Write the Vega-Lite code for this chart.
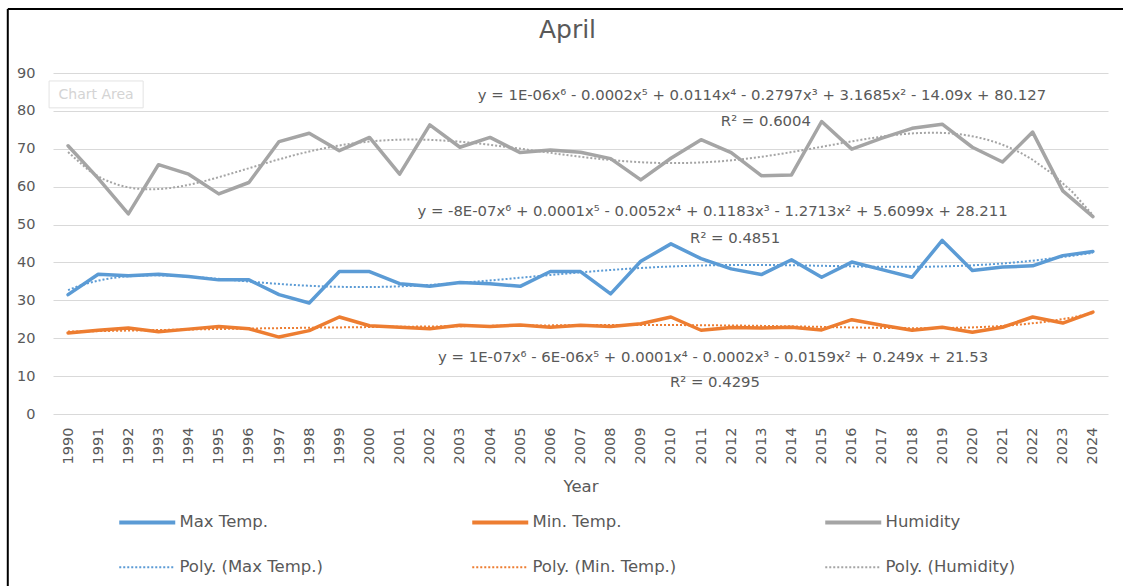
{
  "$schema": "https://vega.github.io/schema/vega-lite/v6.json",
  "autosize": {"type": "none"},
  "width": 1055,
  "height": 341,
  "padding": {"left": 53, "top": 73, "right": 15, "bottom": 172},
  "background": "white",
  "title": {"text": "April", "font": "DejaVu Sans", "fontSize": 25, "fontWeight": "normal", "color": "#595959", "anchor": "middle", "frame": "group", "baseline": "alphabetic", "dx": -13, "offset": -55},
  "datasets": {"weather": [
    {"year": 1990, "series": "Max Temp.", "trend": "Poly. (Max Temp.)", "value": 31.5},
    {"year": 1991, "series": "Max Temp.", "trend": "Poly. (Max Temp.)", "value": 36.9},
    {"year": 1992, "series": "Max Temp.", "trend": "Poly. (Max Temp.)", "value": 36.5},
    {"year": 1993, "series": "Max Temp.", "trend": "Poly. (Max Temp.)", "value": 36.9},
    {"year": 1994, "series": "Max Temp.", "trend": "Poly. (Max Temp.)", "value": 36.3},
    {"year": 1995, "series": "Max Temp.", "trend": "Poly. (Max Temp.)", "value": 35.4},
    {"year": 1996, "series": "Max Temp.", "trend": "Poly. (Max Temp.)", "value": 35.4},
    {"year": 1997, "series": "Max Temp.", "trend": "Poly. (Max Temp.)", "value": 31.5},
    {"year": 1998, "series": "Max Temp.", "trend": "Poly. (Max Temp.)", "value": 29.3},
    {"year": 1999, "series": "Max Temp.", "trend": "Poly. (Max Temp.)", "value": 37.6},
    {"year": 2000, "series": "Max Temp.", "trend": "Poly. (Max Temp.)", "value": 37.6},
    {"year": 2001, "series": "Max Temp.", "trend": "Poly. (Max Temp.)", "value": 34.4},
    {"year": 2002, "series": "Max Temp.", "trend": "Poly. (Max Temp.)", "value": 33.7},
    {"year": 2003, "series": "Max Temp.", "trend": "Poly. (Max Temp.)", "value": 34.7},
    {"year": 2004, "series": "Max Temp.", "trend": "Poly. (Max Temp.)", "value": 34.4},
    {"year": 2005, "series": "Max Temp.", "trend": "Poly. (Max Temp.)", "value": 33.7},
    {"year": 2006, "series": "Max Temp.", "trend": "Poly. (Max Temp.)", "value": 37.6},
    {"year": 2007, "series": "Max Temp.", "trend": "Poly. (Max Temp.)", "value": 37.6},
    {"year": 2008, "series": "Max Temp.", "trend": "Poly. (Max Temp.)", "value": 31.7},
    {"year": 2009, "series": "Max Temp.", "trend": "Poly. (Max Temp.)", "value": 40.3},
    {"year": 2010, "series": "Max Temp.", "trend": "Poly. (Max Temp.)", "value": 44.9},
    {"year": 2011, "series": "Max Temp.", "trend": "Poly. (Max Temp.)", "value": 41.0},
    {"year": 2012, "series": "Max Temp.", "trend": "Poly. (Max Temp.)", "value": 38.3},
    {"year": 2013, "series": "Max Temp.", "trend": "Poly. (Max Temp.)", "value": 36.8},
    {"year": 2014, "series": "Max Temp.", "trend": "Poly. (Max Temp.)", "value": 40.7},
    {"year": 2015, "series": "Max Temp.", "trend": "Poly. (Max Temp.)", "value": 36.1},
    {"year": 2016, "series": "Max Temp.", "trend": "Poly. (Max Temp.)", "value": 40.1},
    {"year": 2017, "series": "Max Temp.", "trend": "Poly. (Max Temp.)", "value": 38.1},
    {"year": 2018, "series": "Max Temp.", "trend": "Poly. (Max Temp.)", "value": 36.1},
    {"year": 2019, "series": "Max Temp.", "trend": "Poly. (Max Temp.)", "value": 45.8},
    {"year": 2020, "series": "Max Temp.", "trend": "Poly. (Max Temp.)", "value": 37.9},
    {"year": 2021, "series": "Max Temp.", "trend": "Poly. (Max Temp.)", "value": 38.8},
    {"year": 2022, "series": "Max Temp.", "trend": "Poly. (Max Temp.)", "value": 39.1},
    {"year": 2023, "series": "Max Temp.", "trend": "Poly. (Max Temp.)", "value": 41.8},
    {"year": 2024, "series": "Max Temp.", "trend": "Poly. (Max Temp.)", "value": 42.9},
    {"year": 1990, "series": "Min. Temp.", "trend": "Poly. (Min. Temp.)", "value": 21.4},
    {"year": 1991, "series": "Min. Temp.", "trend": "Poly. (Min. Temp.)", "value": 22.1},
    {"year": 1992, "series": "Min. Temp.", "trend": "Poly. (Min. Temp.)", "value": 22.7},
    {"year": 1993, "series": "Min. Temp.", "trend": "Poly. (Min. Temp.)", "value": 21.7},
    {"year": 1994, "series": "Min. Temp.", "trend": "Poly. (Min. Temp.)", "value": 22.4},
    {"year": 1995, "series": "Min. Temp.", "trend": "Poly. (Min. Temp.)", "value": 23.1},
    {"year": 1996, "series": "Min. Temp.", "trend": "Poly. (Min. Temp.)", "value": 22.5},
    {"year": 1997, "series": "Min. Temp.", "trend": "Poly. (Min. Temp.)", "value": 20.3},
    {"year": 1998, "series": "Min. Temp.", "trend": "Poly. (Min. Temp.)", "value": 22.0},
    {"year": 1999, "series": "Min. Temp.", "trend": "Poly. (Min. Temp.)", "value": 25.6},
    {"year": 2000, "series": "Min. Temp.", "trend": "Poly. (Min. Temp.)", "value": 23.3},
    {"year": 2001, "series": "Min. Temp.", "trend": "Poly. (Min. Temp.)", "value": 22.9},
    {"year": 2002, "series": "Min. Temp.", "trend": "Poly. (Min. Temp.)", "value": 22.5},
    {"year": 2003, "series": "Min. Temp.", "trend": "Poly. (Min. Temp.)", "value": 23.4},
    {"year": 2004, "series": "Min. Temp.", "trend": "Poly. (Min. Temp.)", "value": 23.1},
    {"year": 2005, "series": "Min. Temp.", "trend": "Poly. (Min. Temp.)", "value": 23.5},
    {"year": 2006, "series": "Min. Temp.", "trend": "Poly. (Min. Temp.)", "value": 22.9},
    {"year": 2007, "series": "Min. Temp.", "trend": "Poly. (Min. Temp.)", "value": 23.4},
    {"year": 2008, "series": "Min. Temp.", "trend": "Poly. (Min. Temp.)", "value": 23.1},
    {"year": 2009, "series": "Min. Temp.", "trend": "Poly. (Min. Temp.)", "value": 23.8},
    {"year": 2010, "series": "Min. Temp.", "trend": "Poly. (Min. Temp.)", "value": 25.6},
    {"year": 2011, "series": "Min. Temp.", "trend": "Poly. (Min. Temp.)", "value": 22.1},
    {"year": 2012, "series": "Min. Temp.", "trend": "Poly. (Min. Temp.)", "value": 22.8},
    {"year": 2013, "series": "Min. Temp.", "trend": "Poly. (Min. Temp.)", "value": 22.7},
    {"year": 2014, "series": "Min. Temp.", "trend": "Poly. (Min. Temp.)", "value": 22.9},
    {"year": 2015, "series": "Min. Temp.", "trend": "Poly. (Min. Temp.)", "value": 22.2},
    {"year": 2016, "series": "Min. Temp.", "trend": "Poly. (Min. Temp.)", "value": 24.9},
    {"year": 2017, "series": "Min. Temp.", "trend": "Poly. (Min. Temp.)", "value": 23.4},
    {"year": 2018, "series": "Min. Temp.", "trend": "Poly. (Min. Temp.)", "value": 22.1},
    {"year": 2019, "series": "Min. Temp.", "trend": "Poly. (Min. Temp.)", "value": 22.9},
    {"year": 2020, "series": "Min. Temp.", "trend": "Poly. (Min. Temp.)", "value": 21.6},
    {"year": 2021, "series": "Min. Temp.", "trend": "Poly. (Min. Temp.)", "value": 22.9},
    {"year": 2022, "series": "Min. Temp.", "trend": "Poly. (Min. Temp.)", "value": 25.6},
    {"year": 2023, "series": "Min. Temp.", "trend": "Poly. (Min. Temp.)", "value": 24.0},
    {"year": 2024, "series": "Min. Temp.", "trend": "Poly. (Min. Temp.)", "value": 26.9},
    {"year": 1990, "series": "Humidity", "trend": "Poly. (Humidity)", "value": 70.8},
    {"year": 1991, "series": "Humidity", "trend": "Poly. (Humidity)", "value": 62.2},
    {"year": 1992, "series": "Humidity", "trend": "Poly. (Humidity)", "value": 52.8},
    {"year": 1993, "series": "Humidity", "trend": "Poly. (Humidity)", "value": 65.8},
    {"year": 1994, "series": "Humidity", "trend": "Poly. (Humidity)", "value": 63.3},
    {"year": 1995, "series": "Humidity", "trend": "Poly. (Humidity)", "value": 58.1},
    {"year": 1996, "series": "Humidity", "trend": "Poly. (Humidity)", "value": 61.1},
    {"year": 1997, "series": "Humidity", "trend": "Poly. (Humidity)", "value": 71.9},
    {"year": 1998, "series": "Humidity", "trend": "Poly. (Humidity)", "value": 74.1},
    {"year": 1999, "series": "Humidity", "trend": "Poly. (Humidity)", "value": 69.5},
    {"year": 2000, "series": "Humidity", "trend": "Poly. (Humidity)", "value": 73.0},
    {"year": 2001, "series": "Humidity", "trend": "Poly. (Humidity)", "value": 63.3},
    {"year": 2002, "series": "Humidity", "trend": "Poly. (Humidity)", "value": 76.3},
    {"year": 2003, "series": "Humidity", "trend": "Poly. (Humidity)", "value": 70.4},
    {"year": 2004, "series": "Humidity", "trend": "Poly. (Humidity)", "value": 73.0},
    {"year": 2005, "series": "Humidity", "trend": "Poly. (Humidity)", "value": 69.0},
    {"year": 2006, "series": "Humidity", "trend": "Poly. (Humidity)", "value": 69.7},
    {"year": 2007, "series": "Humidity", "trend": "Poly. (Humidity)", "value": 69.1},
    {"year": 2008, "series": "Humidity", "trend": "Poly. (Humidity)", "value": 67.4},
    {"year": 2009, "series": "Humidity", "trend": "Poly. (Humidity)", "value": 61.8},
    {"year": 2010, "series": "Humidity", "trend": "Poly. (Humidity)", "value": 67.5},
    {"year": 2011, "series": "Humidity", "trend": "Poly. (Humidity)", "value": 72.4},
    {"year": 2012, "series": "Humidity", "trend": "Poly. (Humidity)", "value": 69.0},
    {"year": 2013, "series": "Humidity", "trend": "Poly. (Humidity)", "value": 62.9},
    {"year": 2014, "series": "Humidity", "trend": "Poly. (Humidity)", "value": 63.1},
    {"year": 2015, "series": "Humidity", "trend": "Poly. (Humidity)", "value": 77.2},
    {"year": 2016, "series": "Humidity", "trend": "Poly. (Humidity)", "value": 69.9},
    {"year": 2017, "series": "Humidity", "trend": "Poly. (Humidity)", "value": 72.8},
    {"year": 2018, "series": "Humidity", "trend": "Poly. (Humidity)", "value": 75.4},
    {"year": 2019, "series": "Humidity", "trend": "Poly. (Humidity)", "value": 76.5},
    {"year": 2020, "series": "Humidity", "trend": "Poly. (Humidity)", "value": 70.4},
    {"year": 2021, "series": "Humidity", "trend": "Poly. (Humidity)", "value": 66.5},
    {"year": 2022, "series": "Humidity", "trend": "Poly. (Humidity)", "value": 74.4},
    {"year": 2023, "series": "Humidity", "trend": "Poly. (Humidity)", "value": 58.9},
    {"year": 2024, "series": "Humidity", "trend": "Poly. (Humidity)", "value": 52.1}
  ]},
  "resolve": {"axis": {"x": "independent", "y": "independent"}},
  "layer": [
    {
      "data": {"name": "weather"},
      "mark": {"type": "line", "strokeWidth": 3.5, "strokeJoin": "round", "strokeCap": "round"},
      "encoding": {
        "x": {"field": "year", "type": "quantitative",
          "scale": {"domain": [1989.5, 2024.5], "nice": false, "zero": false},
          "axis": {"title": "Year", "values": [1990,1991,1992,1993,1994,1995,1996,1997,1998,1999,2000,2001,2002,2003,2004,2005,2006,2007,2008,2009,2010,2011,2012,2013,2014,2015,2016,2017,2018,2019,2020,2021,2022,2023,2024],
            "format": "d", "labelAngle": 270, "labelFlush": false, "labelOverlap": false, "grid": false, "domain": false, "ticks": false,
            "labelFont": "DejaVu Sans", "labelFontSize": 14.5, "labelColor": "#595959", "labelPadding": 13,
            "titleFont": "DejaVu Sans", "titleFontSize": 16.5, "titleFontWeight": "normal", "titleColor": "#595959", "titlePadding": 15}},
        "y": {"field": "value", "type": "quantitative",
          "scale": {"domain": [0, 90], "nice": false},
          "axis": {"title": null, "values": [0,10,20,30,40,50,60,70,80,90], "grid": true, "gridColor": "#d9d9d9", "gridWidth": 1,
            "domain": false, "ticks": false, "labelFont": "DejaVu Sans", "labelFontSize": 14.5, "labelColor": "#595959", "labelPadding": 18}},
        "color": {"field": "series", "type": "nominal",
          "scale": {"domain": ["Max Temp.", "Min. Temp.", "Humidity", "Poly. (Max Temp.)", "Poly. (Min. Temp.)", "Poly. (Humidity)"],
                    "range": ["#5B9BD5", "#ED7D31", "#A5A5A5", "#5B9BD5", "#ED7D31", "#A5A5A5"]},
          "legend": {"title": null, "orient": "none", "legendX": 86, "legendY": 441, "columns": 3, "direction": "horizontal",
            "symbolType": "stroke", "symbolSize": 900, "symbolStrokeWidth": 4, "labelOffset": 24, "columnPadding": 140, "rowPadding": 28,
            "gridAlign": "all", "labelFont": "DejaVu Sans", "labelFontSize": 16.5, "labelColor": "#595959", "labelLimit": 400,
            "encode": {"symbols": {"update": {
              "size": {"value": 3136},
              "strokeDash": {"signal": "datum.index >= 3 ? [2, 2] : [1, 0]"},
              "strokeWidth": {"signal": "datum.index >= 3 ? 2 : 4"}}}}}
        }
      }
    },
    {
      "data": {"name": "weather"},
      "transform": [{"regression": "value", "on": "year", "groupby": ["trend"], "method": "poly", "order": 6}],
      "mark": {"type": "line", "strokeWidth": 2, "strokeDash": [2, 2]},
      "encoding": {
        "x": {"field": "year", "type": "quantitative", "axis": null},
        "y": {"field": "value", "type": "quantitative", "axis": null},
        "color": {"field": "trend", "type": "nominal"}
      }
    },
    {
      "data": {"values": [{"note": "y = 1E-06x⁶ - 0.0002x⁵ + 0.0114x⁴ - 0.2797x³ + 3.1685x² - 14.09x + 80.127"}]},
      "mark": {"type": "text", "font": "DejaVu Sans", "fontSize": 14.85, "color": "#595959", "align": "center", "baseline": "middle"},
      "encoding": {"x": {"datum": 2013.02, "type": "quantitative", "axis": null}, "y": {"datum": 83.9, "type": "quantitative", "axis": null}, "text": {"field": "note"}}
    },
    {
      "data": {"values": [{"note": "R² = 0.6004"}]},
      "mark": {"type": "text", "font": "DejaVu Sans", "fontSize": 14.85, "color": "#595959", "align": "center", "baseline": "middle"},
      "encoding": {"x": {"datum": 2013.15, "type": "quantitative", "axis": null}, "y": {"datum": 77.1, "type": "quantitative", "axis": null}, "text": {"field": "note"}}
    },
    {
      "data": {"values": [{"note": "y = -8E-07x⁶ + 0.0001x⁵ - 0.0052x⁴ + 0.1183x³ - 1.2713x² + 5.6099x + 28.211"}]},
      "mark": {"type": "text", "font": "DejaVu Sans", "fontSize": 14.85, "color": "#595959", "align": "center", "baseline": "middle"},
      "encoding": {"x": {"datum": 2011.38, "type": "quantitative", "axis": null}, "y": {"datum": 53.4, "type": "quantitative", "axis": null}, "text": {"field": "note"}}
    },
    {
      "data": {"values": [{"note": "R² = 0.4851"}]},
      "mark": {"type": "text", "font": "DejaVu Sans", "fontSize": 14.85, "color": "#595959", "align": "center", "baseline": "middle"},
      "encoding": {"x": {"datum": 2012.13, "type": "quantitative", "axis": null}, "y": {"datum": 46.2, "type": "quantitative", "axis": null}, "text": {"field": "note"}}
    },
    {
      "data": {"values": [{"note": "y = 1E-07x⁶ - 6E-06x⁵ + 0.0001x⁴ - 0.0002x³ - 0.0159x² + 0.249x + 21.53"}]},
      "mark": {"type": "text", "font": "DejaVu Sans", "fontSize": 14.85, "color": "#595959", "align": "center", "baseline": "middle"},
      "encoding": {"x": {"datum": 2011.4, "type": "quantitative", "axis": null}, "y": {"datum": 14.8, "type": "quantitative", "axis": null}, "text": {"field": "note"}}
    },
    {
      "data": {"values": [{"note": "R² = 0.4295"}]},
      "mark": {"type": "text", "font": "DejaVu Sans", "fontSize": 14.85, "color": "#595959", "align": "center", "baseline": "middle"},
      "encoding": {"x": {"datum": 2011.46, "type": "quantitative", "axis": null}, "y": {"datum": 8.2, "type": "quantitative", "axis": null}, "text": {"field": "note"}}
    },
    {
      "data": {"values": [{"note": "Chart Area"}]},
      "mark": {"type": "rect", "fill": "white", "stroke": "#e3e3e3", "strokeWidth": 1, "clip": false},
      "encoding": {"x": {"datum": 1989.37, "type": "quantitative", "axis": null}, "x2": {"datum": 1992.49}, "y": {"datum": 87.9, "type": "quantitative", "axis": null}, "y2": {"datum": 80.8}}
    },
    {
      "data": {"values": [{"note": "Chart Area"}]},
      "mark": {"type": "text", "font": "DejaVu Sans", "fontSize": 14, "color": "#d4d4d4", "align": "center", "baseline": "middle", "clip": false},
      "encoding": {"x": {"datum": 1990.93, "type": "quantitative", "axis": null}, "y": {"datum": 84.2, "type": "quantitative", "axis": null}, "text": {"field": "note"}}
    },
    {
      "data": {"values": [{"edge": "left"}]},
      "mark": {"type": "rule", "color": "black", "strokeWidth": 2, "clip": false},
      "encoding": {"x": {"datum": 1988.0, "type": "quantitative", "axis": null}, "y": {"datum": 106.9, "type": "quantitative", "axis": null}, "y2": {"datum": -46}}
    },
    {
      "data": {"values": [{"edge": "top"}]},
      "mark": {"type": "rule", "color": "black", "strokeWidth": 2, "clip": false},
      "encoding": {"x": {"datum": 1988.0, "type": "quantitative", "axis": null}, "x2": {"datum": 2025.2}, "y": {"datum": 106.9, "type": "quantitative", "axis": null}}
    }
  ],
  "config": {"view": {"stroke": null}}
}
